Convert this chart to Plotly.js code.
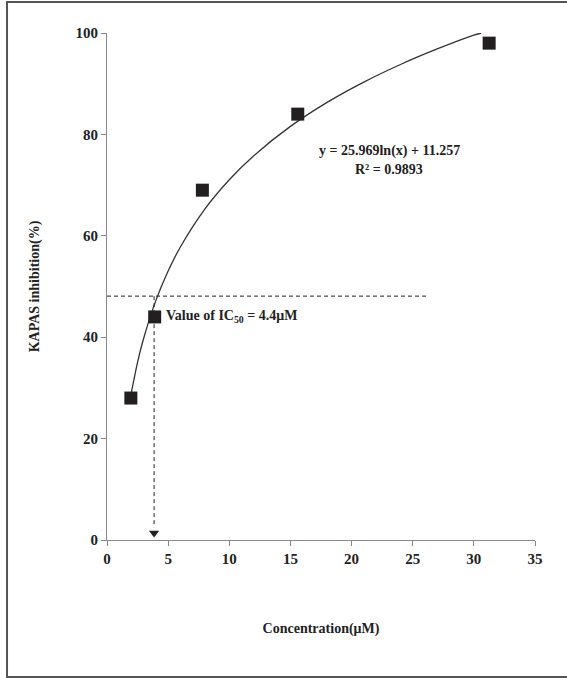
<!DOCTYPE html>
<html>
<head>
<meta charset="utf-8">
<script src="https://cdn.plot.ly/plotly-3.0.1.min.js"></script>
<style>html,body{margin:0;padding:0;background:#fff;}#chart{width:567px;height:678px;}</style>
</head>
<body>
<div id="chart"></div>
<script>
// Measured data points
const concentration = [1.95, 3.9, 7.8, 15.6, 31.25];
const inhibition = [28, 44, 69, 84, 98];

// Log trendline as drawn (y = 25.969 ln(x) + 11.257)
const trendX = [1.95, 2.5, 3, 4, 5, 6, 8, 10, 12, 15, 18, 21, 24, 27, 30, 30.6];
const trendY = [28.6, 35.05, 39.79, 47.26, 53.05, 57.79, 65.26, 71.05, 75.79, 81.58, 86.32, 90.32, 93.79, 96.85, 99.58, 100];

// IC50 guide lines
const ic50Level = 48.1;
const ic50X = 3.85;
const ic50LineEnd = 26.2;

const xTicks = [0, 5, 10, 15, 20, 25, 30, 35];
const yTicks = [0, 20, 40, 60, 80, 100];

const fontFam = '"Liberation Serif", "Times New Roman", serif';
const txt = '#222';

const traces = [
  {x: trendX, y: trendY, mode: 'lines', line: {color: '#333', width: 1.3, shape: 'spline', smoothing: 0.8}, hoverinfo: 'skip', cliponaxis: true},
  {x: [ic50X], y: [1.4], mode: 'markers', marker: {symbol: 'triangle-down', size: 9, color: '#222'}, hoverinfo: 'skip', cliponaxis: false},
  {x: concentration, y: inhibition, mode: 'markers', marker: {symbol: 'square', size: 13, color: '#231f20'}, cliponaxis: false}
];

const layout = {
  width: 567, height: 678,
  margin: {l: 107, r: 32, t: 33, b: 138},
  paper_bgcolor: '#fff', plot_bgcolor: '#fff',
  showlegend: false,
  font: {family: fontFam, color: txt, size: 14},
  xaxis: {
    range: [0, 35], tickvals: xTicks, ticktext: xTicks.map(String),
    showgrid: false, zeroline: false, showline: true, linecolor: '#888', linewidth: 1,
    ticks: 'outside', ticklen: 5, tickcolor: '#888',
    tickfont: {family: fontFam, size: 15, color: txt, weight: 'bold'},
    title: {text: '<b>Concentration(μM)</b>', font: {family: fontFam, size: 14, color: txt}, standoff: 57}
  },
  yaxis: {
    range: [0, 100], tickvals: yTicks, ticktext: yTicks.map(String),
    showgrid: false, zeroline: false, showline: true, linecolor: '#888', linewidth: 1,
    ticks: 'outside', ticklen: 5, tickcolor: '#888',
    tickfont: {family: fontFam, size: 15, color: txt, weight: 'bold'},
    title: {text: '<b>KAPAS inhibition(%)</b>', font: {family: fontFam, size: 14, color: txt}, standoff: 32}
  },
  shapes: [
    {type: 'line', xref: 'x', yref: 'y', x0: 0, x1: ic50LineEnd, y0: ic50Level, y1: ic50Level, line: {color: '#222', width: 1, dash: '4px,3px'}},
    {type: 'line', xref: 'x', yref: 'y', x0: ic50X, x1: ic50X, y0: ic50Level, y1: 2.5, line: {color: '#222', width: 1, dash: '4px,3px'}},
    {type: 'rect', xref: 'paper', yref: 'paper', x0: -0.2336, x1: 1.09, y0: -0.2702, y1: 1.0611, line: {color: '#555', width: 2}, layer: 'below'}
  ],
  annotations: [
    {xref: 'x', yref: 'y', x: 23.1, y: 76.7, text: '<b>y = 25.969ln(x) + 11.257</b>', showarrow: false, font: {family: fontFam, size: 14, color: txt}},
    {xref: 'x', yref: 'y', x: 23.1, y: 73.0, text: '<b>R² = 0.9893</b>', showarrow: false, font: {family: fontFam, size: 14, color: txt}},
    {xref: 'x', yref: 'y', x: 4.7, y: 44, xanchor: 'left', text: '<b>Value of IC<sub>50</sub> = 4.4μM</b>', showarrow: false, font: {family: fontFam, size: 14, color: txt}}
  ]
};

Plotly.newPlot('chart', traces, layout, {displayModeBar: false, staticPlot: true});
</script>
</body>
</html>
